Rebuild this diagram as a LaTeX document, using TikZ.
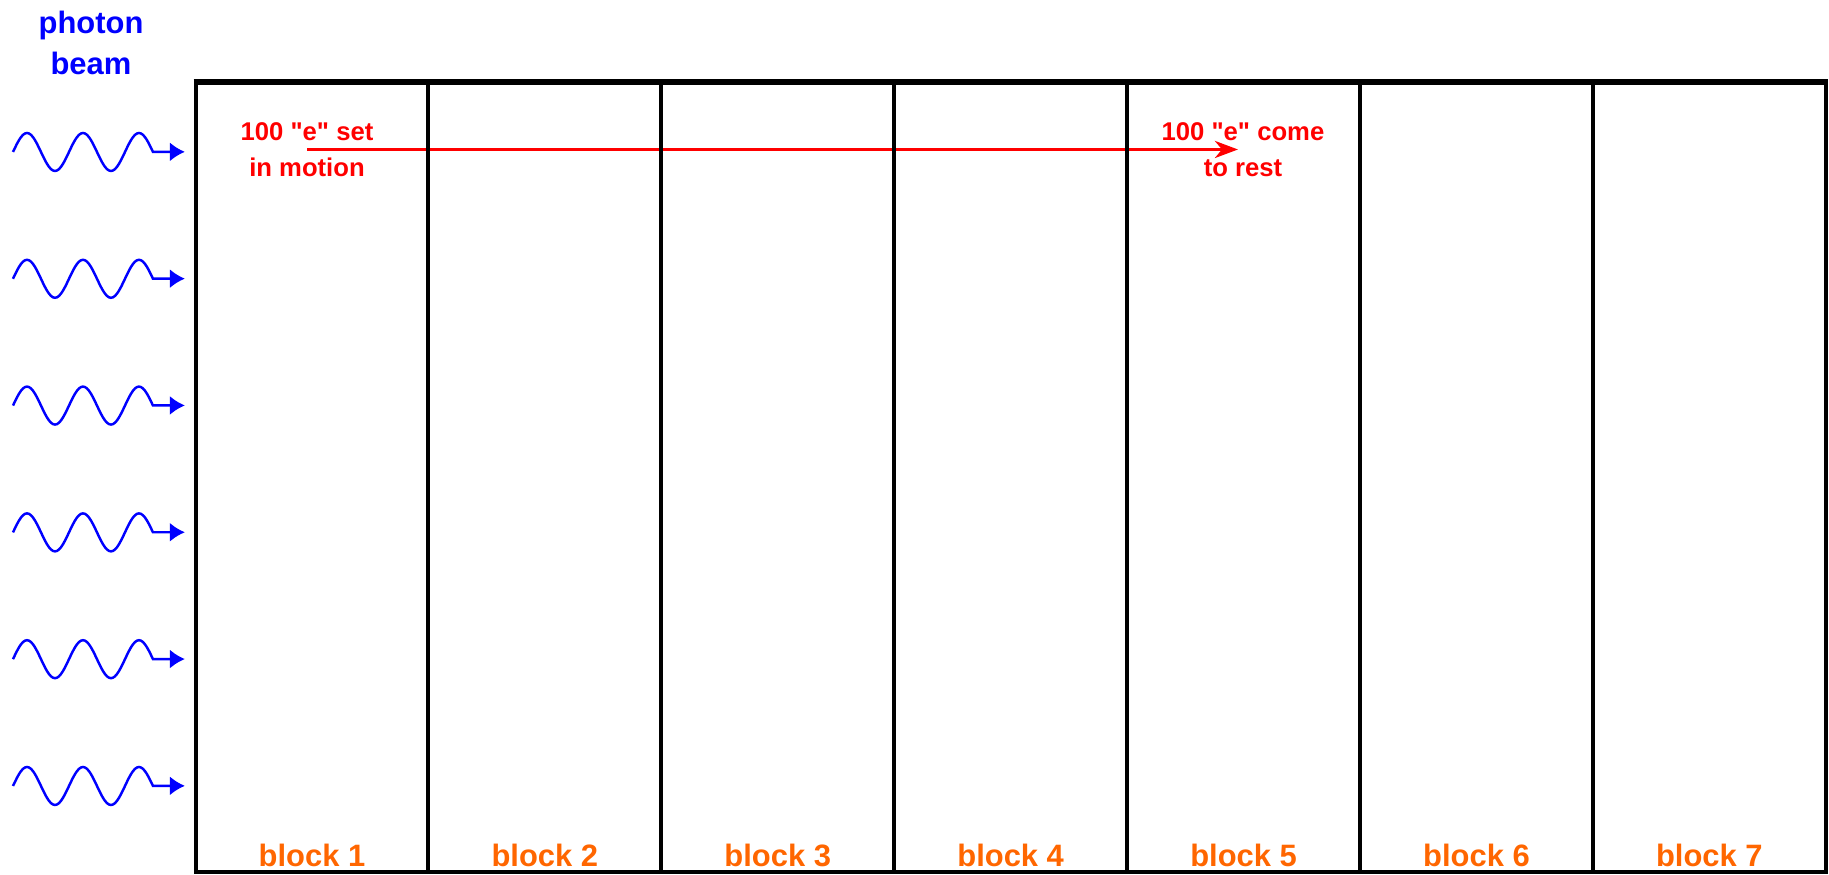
\documentclass[tikz,border=0pt]{standalone}
\usepackage{fontspec}
\setmainfont{Liberation Sans}[Ligatures=TeXOff]
\usetikzlibrary{arrows.meta}
\definecolor{beamblue}{RGB}{0,0,255}
\definecolor{elecred}{RGB}{255,0,0}
\definecolor{blockorange}{RGB}{255,102,0}
\begin{document}
\begin{tikzpicture}[every node/.style={font=\bfseries},
  beam/.style={draw=beamblue,line width=.7pt,-{Latex[length=.15cm,width=.19cm]}},
  elec/.style={text=elecred,align=center,font=\bfseries\fontsize{7.3}{10.4}\selectfont},
  blocklbl/.style={anchor=base,text=blockorange,font=\bfseries\fontsize{8.8}{10}\selectfont}]
\useasboundingbox (0,0) rectangle (18.29,8.75);
\def\B{2.329}
\def\A{.19}
\node[text=beamblue,align=center,font=\bfseries\fontsize{8.8}{11.9}\selectfont] (beamlbl) at (.91,8.32) {photon\\beam};
% incoming waves
\draw[beam] plot[domain=0:1.4,samples=71] ({.13+\x},{7.23+\A*sin(\x*360/.56)}) -- ++(.32,0);
\draw[beam] plot[domain=0:1.4,samples=71] ({.13+\x},{5.962+\A*sin(\x*360/.56)}) -- ++(.32,0);
\draw[beam] plot[domain=0:1.4,samples=71] ({.13+\x},{4.694+\A*sin(\x*360/.56)}) -- ++(.32,0);
\draw[beam] plot[domain=0:1.4,samples=71] ({.13+\x},{3.426+\A*sin(\x*360/.56)}) -- ++(.32,0);
\draw[beam] plot[domain=0:1.4,samples=71] ({.13+\x},{2.158+\A*sin(\x*360/.56)}) -- ++(.32,0);
\draw[beam] plot[domain=0:1.4,samples=71] ({.13+\x},{.89+\A*sin(\x*360/.56)}) -- ++(.32,0);
% electrons
\node[elec] (setlbl) at (3.07,7.255) {100 "e" set\\in motion};
\node[elec] (restlbl) at (12.43,7.255) {100 "e" come\\to rest};
\draw[draw=elecred,line width=1.05pt,-{Stealth[length=.23cm,width=.17cm,inset=.07cm]},shorten >=.05cm] (setlbl.center) -- (restlbl.center);
% blocks
\draw[line width=.04cm] (1.955,.03) rectangle (18.26,7.93);
\draw[line width=.06cm] (1.935,7.93) -- (18.28,7.93);
\draw[line width=.04cm] ({1.955+\B},.03) -- ({1.955+\B},7.93);
\draw[line width=.04cm] ({1.955+2*\B},.03) -- ({1.955+2*\B},7.93);
\draw[line width=.04cm] ({1.955+3*\B},.03) -- ({1.955+3*\B},7.93);
\draw[line width=.04cm] ({1.955+4*\B},.03) -- ({1.955+4*\B},7.93);
\draw[line width=.04cm] ({1.955+5*\B},.03) -- ({1.955+5*\B},7.93);
\draw[line width=.04cm] ({1.955+6*\B},.03) -- ({1.955+6*\B},7.93);
\node[blocklbl] (blk1) at ({1.955+.5*\B},.08) {block 1};
\node[blocklbl] (blk2) at ({1.955+1.5*\B},.08) {block 2};
\node[blocklbl] (blk3) at ({1.955+2.5*\B},.08) {block 3};
\node[blocklbl] (blk4) at ({1.955+3.5*\B},.08) {block 4};
\node[blocklbl] (blk5) at ({1.955+4.5*\B},.08) {block 5};
\node[blocklbl] (blk6) at ({1.955+5.5*\B},.08) {block 6};
\node[blocklbl] (blk7) at ({1.955+6.5*\B},.08) {block 7};
\end{tikzpicture}
\end{document}
